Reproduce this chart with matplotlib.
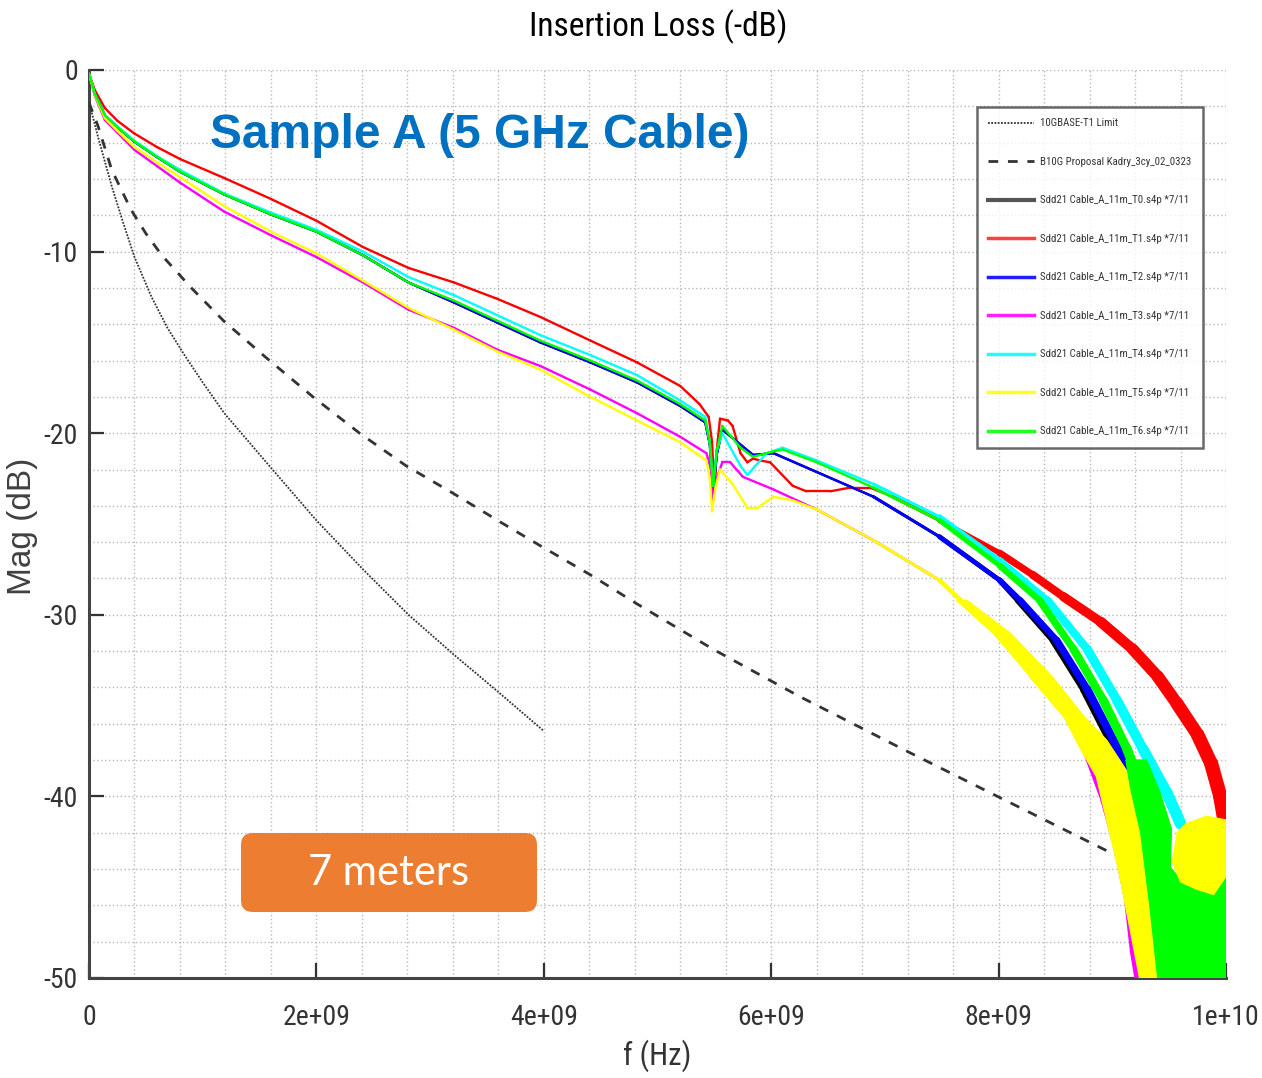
import numpy as np
import matplotlib
matplotlib.use("Agg")
import matplotlib.pyplot as plt
from matplotlib import font_manager
from matplotlib.lines import Line2D
from matplotlib.collections import LineCollection
from matplotlib.patches import FancyBboxPatch, Polygon
from matplotlib.ticker import MultipleLocator
from matplotlib.transforms import IdentityTransform

# ---------------- data (frequency in GHz, magnitude in dB) ----------------
LIMIT_F = [0.01, 0.08, 0.2, 0.3, 0.4, 0.55, 0.69, 0.84, 1.0, 1.19, 1.6, 2.0, 2.41, 2.81, 3.21, 3.59, 4.0]
LIMIT_DB = [-2.0, -3.7, -6.4, -8.4, -10.3, -12.5, -14.2, -15.7, -17.2, -18.9, -21.9, -24.8, -27.5, -30.0,
            -32.2, -34.2, -36.4]

PROP_F = [0.0, 0.08, 0.2, 0.37, 0.5, 0.64, 0.9, 1.19, 1.56, 1.97, 2.38, 2.79, 3.2, 3.62, 3.97, 4.41, 4.82,
          5.49, 6.25, 7.19, 7.99, 9.05]
PROP_DB = [-1.8, -3.1, -5.5, -7.7, -9.0, -10.2, -12.0, -13.85, -15.85, -18.0, -20.0, -21.8, -23.3, -24.9,
           -26.2, -27.8, -29.4, -31.9, -34.5, -37.5, -40.0, -43.3]

T1_F = [0, 0.05, 0.14, 0.25, 0.4, 0.6, 0.8, 1.19, 1.6, 2.0, 2.41, 2.81, 3.21, 3.59, 3.97, 4.41, 4.82, 5.2,
        5.37, 5.45, 5.48, 5.5, 5.52, 5.55, 5.62, 5.66, 5.73, 5.79, 5.84, 5.9, 5.99, 6.19, 6.31, 6.52, 6.69,
        6.87, 7.07, 7.48, 8.01, 8.3, 8.57, 8.9, 9.18, 9.4, 9.57, 9.75, 9.87, 9.95, 10.0]
T1_DB = [-0.2, -1.1, -2.1, -2.8, -3.5, -4.25, -4.9, -5.95, -7.1, -8.3, -9.75, -10.9, -11.7, -12.6, -13.6,
         -14.9, -16.1, -17.4, -18.4, -19.1, -20.5, -23.3, -21.0, -19.2, -19.3, -19.6, -21.1, -21.6, -21.4,
         -21.5, -21.6, -22.9, -23.2, -23.2, -23.0, -23.0, -23.5, -24.8, -26.6, -27.8, -29.0, -30.4, -31.9,
         -33.4, -34.9, -36.6, -38.2, -40.0, -41.8]

T6_F = [0, 0.05, 0.14, 0.25, 0.4, 0.6, 0.8, 1.19, 1.6, 2.0, 2.41, 2.81, 3.21, 3.59, 3.97, 4.41, 4.82, 5.2,
        5.42, 5.46, 5.49, 5.52, 5.57, 5.73, 5.84, 6.02, 6.1, 6.4, 6.9, 7.48, 8.01, 8.36, 8.66, 8.92, 9.13, 9.3]
T6_DB = [-0.2, -1.3, -2.5, -3.15, -3.95, -4.8, -5.6, -6.85, -7.95, -8.9, -10.2, -11.7, -12.7, -13.8, -14.9,
         -16.0, -17.1, -18.4, -19.3, -20.5, -22.9, -21.0, -19.6, -20.8, -21.3, -21.0, -20.9, -21.6, -23.0,
         -24.8, -27.3, -29.2, -31.9, -34.7, -37.4, -40.2]

T4_F = [0, 0.05, 0.14, 0.25, 0.4, 0.6, 0.8, 1.19, 1.6, 2.0, 2.41, 2.81, 3.21, 3.59, 3.97, 4.41, 4.82, 5.2,
        5.42, 5.46, 5.49, 5.52, 5.57, 5.73, 5.79, 5.96, 6.1, 6.4, 6.9, 7.48, 8.01, 8.43, 8.78, 9.04, 9.27,
        9.48, 9.6]
T4_DB = [-0.2, -1.3, -2.5, -3.1, -3.9, -4.75, -5.5, -6.8, -7.85, -8.8, -10.0, -11.4, -12.4, -13.5, -14.6,
         -15.7, -16.8, -18.2, -19.1, -20.5, -22.9, -21.0, -20.0, -21.8, -22.3, -21.1, -20.8, -21.5, -22.8,
         -24.6, -27.0, -29.2, -31.9, -34.7, -37.4, -39.8, -41.5]

T2_F = [0, 0.05, 0.14, 0.25, 0.4, 0.6, 0.8, 1.19, 1.6, 2.0, 2.41, 2.81, 3.21, 3.59, 3.97, 4.41, 4.82, 5.2,
        5.42, 5.46, 5.49, 5.52, 5.57, 5.84, 6.02, 6.9, 7.48, 8.01, 8.19, 8.51, 8.78, 9.01, 9.16, 9.24, 9.3]
T2_DB = [-0.2, -1.3, -2.5, -3.15, -3.95, -4.8, -5.6, -6.85, -7.95, -8.9, -10.2, -11.7, -12.8, -13.9, -15.0,
         -16.1, -17.2, -18.5, -19.4, -20.6, -23.2, -21.2, -19.8, -21.2, -21.1, -23.5, -25.7, -28.1, -29.2,
         -31.4, -34.1, -36.9, -38.7, -40.6, -42.5]

T0_F = [0, 0.05, 0.14, 0.25, 0.4, 0.6, 0.8, 1.19, 1.6, 2.0, 2.41, 2.81, 3.21, 3.59, 3.97, 4.41, 4.82, 5.2,
        5.42, 5.46, 5.49, 5.52, 5.57, 5.84, 6.02, 6.9, 7.48, 8.01, 8.17, 8.48, 8.75, 8.98, 9.13, 9.2, 9.26]
T0_DB = [-0.2, -1.3, -2.5, -3.15, -3.95, -4.8, -5.6, -6.85, -7.95, -8.9, -10.2, -11.7, -12.8, -13.9, -15.0,
         -16.1, -17.2, -18.5, -19.4, -20.6, -23.4, -21.2, -19.8, -21.2, -21.1, -23.5, -25.7, -28.1, -29.2,
         -31.4, -34.1, -36.9, -38.9, -40.8, -42.8]

T3_F = [0, 0.05, 0.14, 0.25, 0.4, 0.6, 0.8, 1.19, 1.6, 2.0, 2.41, 2.81, 3.21, 3.59, 3.97, 4.41, 4.82, 5.2,
        5.43, 5.47, 5.49, 5.52, 5.57, 5.64, 5.75, 6.02, 6.4, 6.9, 7.48, 8.01, 8.3, 8.6, 8.78, 8.92, 9.04,
        9.13, 9.18, 9.22]
T3_DB = [-0.2, -1.4, -2.75, -3.45, -4.4, -5.3, -6.2, -7.8, -9.1, -10.3, -11.7, -13.2, -14.2, -15.4, -16.3,
         -17.6, -18.9, -20.2, -21.1, -22.0, -23.7, -22.5, -21.6, -21.6, -22.4, -23.1, -24.2, -25.9, -28.1,
         -31.2, -33.4, -35.6, -37.8, -40.2, -42.9, -45.7, -48.5, -50.0]

T5_F = [0, 0.05, 0.14, 0.25, 0.4, 0.6, 0.8, 1.19, 1.6, 2.0, 2.41, 2.81, 3.21, 3.59, 3.97, 4.41, 4.82, 5.2,
        5.43, 5.46, 5.48, 5.51, 5.55, 5.66, 5.79, 5.88, 6.02, 6.19, 6.4, 6.9, 7.48, 8.01, 8.3, 8.6]
T5_DB = [-0.2, -1.35, -2.65, -3.35, -4.25, -5.1, -5.9, -7.5, -8.9, -10.1, -11.6, -13.1, -14.3, -15.5, -16.5,
         -18.0, -19.3, -20.5, -21.5, -22.5, -24.3, -23.0, -22.0, -22.8, -24.1, -24.1, -23.5, -23.7, -24.2,
         -25.9, -28.1, -31.2, -33.4, -35.6]

# noisy high-frequency envelopes (GHz, dB)
T5_NOISE_F = [7.63, 7.95, 8.31, 8.54, 8.74, 8.86, 9.06, 9.24, 9.60, 9.45, 9.22, 8.95, 8.75, 8.47, 8.10, 7.72]
T5_NOISE_DB = [-29.2, -31.0, -33.6, -35.2, -37.6, -38.9, -44.2, -50.0, -50.0, -44.2, -39.5, -36.9, -35.6,
               -33.4, -31.0, -29.2]
T5_BLOB_F = [9.53, 9.57, 9.65, 9.83, 10.0, 10.0, 9.89, 9.74, 9.60]
T5_BLOB_DB = [-43.6, -42.0, -41.5, -41.1, -41.3, -44.4, -45.4, -45.1, -44.7]
T6_NOISE_F = [9.12, 9.30, 9.42, 9.52, 9.51, 9.60, 9.74, 9.89, 10.0, 10.0, 9.40, 9.33, 9.25, 9.16]
T6_NOISE_DB = [-38.0, -38.0, -39.8, -41.8, -43.9, -44.6, -45.0, -45.2, -44.2, -50.0, -50.0, -46.0, -42.0, -39.5]

X_TICKS = [0, 2, 4, 6, 8, 10]
X_TICK_LABELS = ["0", "2e+09", "4e+09", "6e+09", "8e+09", "1e+10"]
Y_TICKS = [0, -10, -20, -30, -40, -50]
Y_TICK_LABELS = ["0", "-10", "-20", "-30", "-40", "-50"]

LABELS = ["10GBASE-T1 Limit", "B10G Proposal Kadry_3cy_02_0323",
          "Sdd21 Cable_A_11m_T0.s4p *7/11", "Sdd21 Cable_A_11m_T1.s4p *7/11",
          "Sdd21 Cable_A_11m_T2.s4p *7/11", "Sdd21 Cable_A_11m_T3.s4p *7/11",
          "Sdd21 Cable_A_11m_T4.s4p *7/11", "Sdd21 Cable_A_11m_T5.s4p *7/11",
          "Sdd21 Cable_A_11m_T6.s4p *7/11"]

GHZ = 1e9

# ---------------- fonts ----------------
avail = {f.name for f in font_manager.fontManager.ttflist}
narrow = None
for cand in ["Liberation Sans Narrow", "DejaVu Sans Condensed", "Roboto Condensed", "Liberation Sans"]:
    if cand in avail:
        narrow = cand
        break
NARROW = [narrow, "DejaVu Sans"] if narrow else ["DejaVu Sans"]
plt.rcParams["font.family"] = NARROW

fig = plt.figure(figsize=(12.62, 10.78), dpi=100)
W, H = 1262, 1078
ax = fig.add_axes([89 / W, 1 - 978 / H, (1226 - 89) / W, (978 - 70) / H])

ax.set_xlim(0, 1e10)
ax.set_ylim(-50, 0)

# grid
ax.xaxis.set_minor_locator(MultipleLocator(0.4e9))
ax.yaxis.set_minor_locator(MultipleLocator(2))
ax.grid(which="both", linestyle=(0, (1, 1.8)), color="#b8b8b8", linewidth=1.0)
ax.set_axisbelow(True)

for s in ["top", "right"]:
    ax.spines[s].set_visible(False)
for s in ["left", "bottom"]:
    ax.spines[s].set_color("#444444")
    ax.spines[s].set_linewidth(2.2)

ax.set_xticks([v * GHZ for v in X_TICKS])
ax.set_xticklabels(X_TICK_LABELS)
ax.set_yticks(Y_TICKS)
ax.set_yticklabels(Y_TICK_LABELS)
ax.tick_params(which="major", direction="in", length=11, width=1.6, color="#333333",
               labelsize=20, labelcolor="#333333", pad=8)
ax.tick_params(axis="x", which="major", pad=19)
ax.tick_params(which="minor", length=0)


def g(lst):
    return np.asarray(lst) * GHZ


# reference curves
ax.plot(g(LIMIT_F), LIMIT_DB, color="#333333", lw=1.3, linestyle=(0, (1, 0.8)), zorder=3)
ax.plot(g(PROP_F), PROP_DB, color="#333333", lw=2.0, linestyle=(0, (3.5, 3.5)), zorder=3)


def series(f, db, color, z, grow=2.0, start=7.0):
    """Draw a trace; line gets thicker at high frequency where the measurement is noisy."""
    f = np.asarray(f, dtype=float)
    db = np.asarray(db, dtype=float)
    pts = np.column_stack([f * GHZ, db])
    segs = np.stack([pts[:-1], pts[1:]], axis=1)
    mid = 0.5 * (f[:-1] + f[1:])
    widths = 1.7 + grow * np.clip(mid - start, 0, None)
    lc = LineCollection(segs, colors=color, linewidths=widths, zorder=z, capstyle="round",
                        joinstyle="round")
    ax.add_collection(lc)


series(T0_F, T0_DB, "black", 4, grow=2.2)
series(T1_F, T1_DB, "#ff0000", 5, grow=2.9)
series(T2_F, T2_DB, "#0000ff", 6, grow=2.2)
series(T3_F, T3_DB, "#ff00ff", 7, grow=1.2)
series(T4_F, T4_DB, "#00ffff", 8, grow=2.6)
series(T5_F, T5_DB, "#ffff00", 9, grow=2.0)
ax.add_patch(Polygon(np.column_stack([g(T5_NOISE_F), T5_NOISE_DB]), closed=True,
                     facecolor="#ffff00", edgecolor="#ffff00", lw=1, zorder=9))
series(T6_F, T6_DB, "#00ff00", 10, grow=2.4)
ax.add_patch(Polygon(np.column_stack([g(T6_NOISE_F), T6_NOISE_DB]), closed=True,
                     facecolor="#00ff00", edgecolor="#00ff00", lw=1, zorder=10))
ax.add_patch(Polygon(np.column_stack([g(T5_BLOB_F), T5_BLOB_DB]), closed=True,
                     facecolor="#ffff00", edgecolor="#ffff00", lw=1, zorder=11))

# labels
ax.set_xlabel("f (Hz)", fontsize=22, color="#333333", labelpad=6)
fig.text(22 / W, 1 - 526 / H, "Mag (dB)", rotation=90, fontsize=24, color="#404040",
         family=["Liberation Sans", "DejaVu Sans"], ha="center", va="center")
fig.text(658 / W, 1 - 27 / H, "Insertion Loss (-dB)", fontsize=24, color="black",
         ha="center", va="center")

# legend
handles = [
    Line2D([], [], color="#333333", lw=1.3, linestyle=(0, (1, 0.8))),
    Line2D([], [], color="#333333", lw=2.0, linestyle=(0, (3.5, 3.5))),
    Line2D([], [], color="#555555", lw=3),
    Line2D([], [], color="#ff4040", lw=2.5),
    Line2D([], [], color="#2020ff", lw=2.5),
    Line2D([], [], color="#ff20ff", lw=2.5),
    Line2D([], [], color="#20ffff", lw=2.5),
    Line2D([], [], color="#ffff20", lw=2.5),
    Line2D([], [], color="#20ff20", lw=2.5),
]
leg = fig.legend(handles, LABELS, loc="upper left", bbox_to_anchor=(977 / W, 1 - 107 / H),
                 bbox_transform=fig.transFigure, fontsize=7.8, frameon=True, fancybox=False,
                 handlelength=4.2, handletextpad=0.6, labelspacing=2.63, borderpad=1.05,
                 borderaxespad=0)
leg.get_frame().set_edgecolor("#444444")
leg.get_frame().set_linewidth(1.8)
leg.set_zorder(20)
for t in leg.get_texts():
    t.set_color("#333333")

# annotations
fig.text(210 / W, 1 - 136 / H, "Sample A (5 GHz Cable)", fontsize=34.5, fontweight="bold",
         color="#0070C0", family=["Liberation Sans", "DejaVu Sans"], ha="left", va="center", zorder=30)

box = FancyBboxPatch((241, H - 912), 296, 79, boxstyle="round,pad=0,rounding_size=12",
                     transform=IdentityTransform(), facecolor="#ED7D31", edgecolor="none", zorder=30)
fig.patches.append(box)
fig.text(389 / W, 1 - 873 / H, "7 meters", fontsize=30, color="white",
         family=["Lato", "Open Sans", "DejaVu Sans"], ha="center", va="center", zorder=31)

fig.savefig("out.png", dpi=100)
